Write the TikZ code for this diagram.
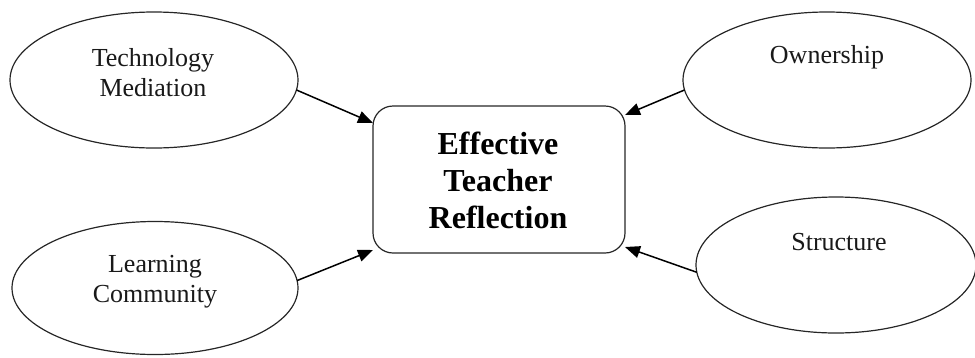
\documentclass[tikz,border=0pt]{standalone}
\usepackage{fontspec}
\setmainfont{Liberation Serif}
\usetikzlibrary{shapes.geometric,arrows.meta}
\tikzset{
  oval/.style={draw=black!85, line width=1.2pt, ellipse, inner sep=0pt, outer sep=0pt},
  ovaltext/.style={font=\fontsize{26}{30}\selectfont, align=center, inner sep=0pt, text=black!90},
  centerbox/.style={draw=black!85, line width=1.2pt, rounded corners=20pt, inner sep=0pt, outer sep=0pt, minimum width=252pt, minimum height=147pt},
  centertext/.style={font=\fontsize{32}{37}\selectfont\bfseries, align=center, inner sep=0pt},
  link/.style={line width=1.5pt, -{Triangle[length=15pt,width=12pt]}}
}
\begin{document}
\begin{tikzpicture}[x=1pt,y=-1pt]
\useasboundingbox (0,0) rectangle (975,357);
\node[oval, minimum width=288pt, minimum height=136pt] (e1) at (154,80) {};
\node[ovaltext] (t1) at (153,73) {Technology\\Mediation};
\node[oval, minimum width=286pt, minimum height=133pt] (e2) at (155,288) {};
\node[ovaltext] (t2) at (155,282) {Learning\\Community};
\node[oval, minimum width=288pt, minimum height=136pt] (e3) at (827,80) {};
\node[ovaltext] (t3) at (827,57) {Ownership};
\node[oval, minimum width=280pt, minimum height=136pt] (e4) at (836,265) {};
\node[ovaltext] (t4) at (839,242) {Structure};
\node[centerbox] (box) at (499,179.5) {};
\node[centertext] (bt) at (498,180) {Effective\\Teacher\\Reflection};
\draw[link] (e1.-4) -- ([yshift=-17pt]box.north west);
\draw[link] (e2.3) -- ([yshift=3pt]box.south west);
\draw[link] (e3.184) -- ([yshift=-9pt]box.north east);
\draw[link] (e4.183) -- ([yshift=6pt]box.south east);
\end{tikzpicture}
\end{document}
